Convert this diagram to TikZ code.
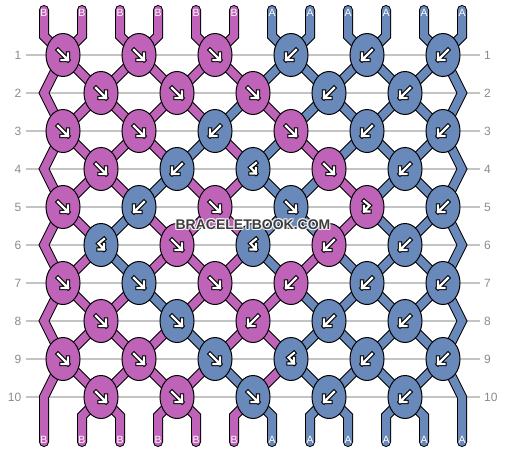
\documentclass[tikz,border=0pt]{standalone}
\usepackage{fontspec}
\setmainfont{Liberation Sans}
\usetikzlibrary{shapes.geometric,calc}
\definecolor{B}{HTML}{BF63B9}
\definecolor{A}{HTML}{6889BA}
\definecolor{gridc}{HTML}{C4C4C4}
\definecolor{labc}{HTML}{8C8C8C}
\definecolor{wmc}{HTML}{3E3E3E}
\tikzset{
  knot/.style={ellipse, draw=black, line width=1pt, minimum width=34pt, minimum height=43pt, inner sep=0pt},
  ak/.style={black, line width=4.4pt, line cap=rect, line join=miter},
  aw/.style={white, line width=2.2pt, line cap=rect, line join=miter},
  arrf/.pic={\draw[ak] (-5,-5)--(5,5) (5,-1.5)--(5,5)--(-1.5,5); \draw[aw] (-5,-5)--(5,5) (5,-1.5)--(5,5)--(-1.5,5);},
  arrb/.pic={\draw[ak] (5,-5)--(-5,5) (-5,-1.5)--(-5,5)--(1.5,5); \draw[aw] (5,-5)--(-5,5) (-5,-1.5)--(-5,5)--(1.5,5);},
  arry/.pic={\draw[ak] (-3,-6)--(2.5,-1.5)--(-3,4.5) (-3,-1)--(-3,4.5)--(2.5,4.5); \draw[aw] (-3,-6)--(2.5,-1.5)--(-3,4.5) (-3,-1)--(-3,4.5)--(2.5,4.5);},
  arrx/.pic={\draw[ak] (3,-6)--(-2.5,-1.5)--(3,4.5) (3,-1)--(3,4.5)--(-2.5,4.5); \draw[aw] (3,-6)--(-2.5,-1.5)--(3,4.5) (3,-1)--(3,4.5)--(-2.5,4.5);},
  rowlab/.style={font=\fontsize{12}{12}\selectfont, text=labc, inner sep=0pt},
  slab/.style={font=\fontsize{10.5}{10.5}\selectfont, text=white, inner sep=0pt, anchor=base},
  wm/.style={font=\fontsize{14}{14}\selectfont\bfseries, text=wmc, inner sep=0pt},
  gridline/.style={draw=gridc, line width=1.2pt},
  tubeout/.style={draw=black, line width=10pt, line cap=round, line join=miter},
  tubein/.style={draw=#1, line width=8pt, line cap=round, line join=miter}
}
\newcommand\alltubes[1]{%
  \draw[#1=B] (t-0) -- (u-0) \foreach \r in {1,...,10} { -- (p-\r-0) } -- (w-0);
  \draw[#1=A] (t-11) -- (u-11) \foreach \r in {1,...,10} { -- (p-\r-11) } -- (w-11);
  \foreach \r/\cl in {0/{B,B,B,B,B,B,A,A,A,A,A,A},
                      1/{B,B,B,B,B,B,A,A,A,A,A,A},
                      2/{B,B,B,B,B,A,B,A,A,A,A,A},
                      3/{B,B,B,B,A,B,A,B,A,A,A,A},
                      4/{B,B,B,A,B,B,A,A,B,A,A,A},
                      5/{B,B,A,B,B,B,A,A,B,A,A,A},
                      6/{B,B,A,B,B,B,A,B,A,A,A,A},
                      7/{B,B,B,A,B,B,B,A,A,A,A,A},
                      8/{B,B,B,B,A,B,B,A,A,A,A,A},
                      9/{B,B,B,B,B,A,B,A,A,A,A,A},
                      10/{B,B,B,B,B,B,A,A,A,A,A,A}} {
    \pgfmathtruncatemacro\rn{\r+1}
    \foreach \cc [count=\i from 0] in \cl {
      \ifnum\i>0\relax \ifnum\i<11\relax
        \ifnum\r=0\relax \draw[#1=\cc] (t-\i) -- (u-\i) -- (p-1-\i);
        \else\ifnum\r=10\relax \draw[#1=\cc] (p-10-\i) -- (v-\i) -- (w-\i);
        \else \draw[#1=\cc] (p-\r-\i) -- (p-\rn-\i);
        \fi\fi
      \fi\fi
    }
  }
}
\begin{document}
\begin{tikzpicture}[x=1pt,y=-1pt]
\useasboundingbox (0,0) rectangle (506,452);
\fill[white] (0,0) rectangle (506,452);
% coordinates
\foreach \i in {0,...,11} {
  \pgfmathsetmacro\xx{44+38*\i}
  \coordinate (t-\i) at (\xx,10);
  \coordinate (u-\i) at (\xx,36);
  \coordinate (v-\i) at (\xx,416);
  \coordinate (w-\i) at (\xx,442);
  \foreach \r in {1,...,10} {
    \pgfmathsetmacro\off{ifthenelse(and(mod(\r,2)==0, or(\i==0,\i==11)), 0, ifthenelse(mod(\i+\r,2)==1, 19, -19))}
    \pgfmathsetmacro\px{\xx+(\off)}
    \pgfmathsetmacro\py{17+38*\r}
    \coordinate (p-\r-\i) at (\px,\py);
  }
}
% grid lines and row labels
\foreach \r in {1,...,10} {
  \pgfmathsetmacro\yy{17+38*\r}
  \draw[gridline] (26,\yy) -- (480,\yy);
  \node[rowlab, anchor=base east] (rl-\r) at (21.5,\yy+4.3) {\r};
  \node[rowlab, anchor=base west] (rr-\r) at (484,\yy+4.3) {\r};
}
% threads
\alltubes{tubeout}
\alltubes{tubein}
% knots
\foreach \r/\lst in {1/{f/B,f/B,f/B,b/A,b/A,b/A},
                     2/{f/B,f/B,f/B,b/A,b/A},
                     3/{f/B,f/B,b/A,f/B,b/A,b/A},
                     4/{f/B,b/A,x/A,f/B,b/A},
                     5/{f/B,b/A,f/B,f/A,y/B,b/A},
                     6/{x/A,f/B,x/A,b/B,b/A},
                     7/{f/B,f/A,f/B,b/B,b/A,b/A},
                     8/{f/B,f/A,b/B,b/A,b/A},
                     9/{f/B,f/B,f/A,x/A,b/A,b/A},
                     10/{f/B,f/B,f/A,b/A,b/A}} {
  \foreach \kt/\kc [count=\j from 0] in \lst {
    \pgfmathtruncatemacro\pos{2*\j+1-mod(\r,2)}
    \edef\tmp{\noexpand\node[knot,fill=\kc] (k-\r-\j) at (p-\r-\pos) {}; \noexpand\pic at (k-\r-\j) {arr\kt};}
    \tmp
  }
}
% strand labels
\foreach \l [count=\i from 0] in {B,B,B,B,B,B,A,A,A,A,A,A} {
  \node[slab] (st-\i) at ($(t-\i)+(0,6.3)$) {\l};
}
\foreach \l [count=\i from 0] in {B,B,B,B,B,B,A,A,A,A,A,A} {
  \node[slab] (sb-\i) at ($(w-\i)+(0,1.3)$) {\l};
}
% watermark
\foreach \dx/\dy in {-1/0,1/0,0/-1,0/1,-1/-1,1/1,-1/1,1/-1} {
  \node[wm, text=white, opacity=0.7] at (253+\dx,224.5+\dy) {BRACELETBOOK.COM};
}
\node[wm] (wmark) at (253,224.5) {BRACELETBOOK.COM};
\end{tikzpicture}
\end{document}
